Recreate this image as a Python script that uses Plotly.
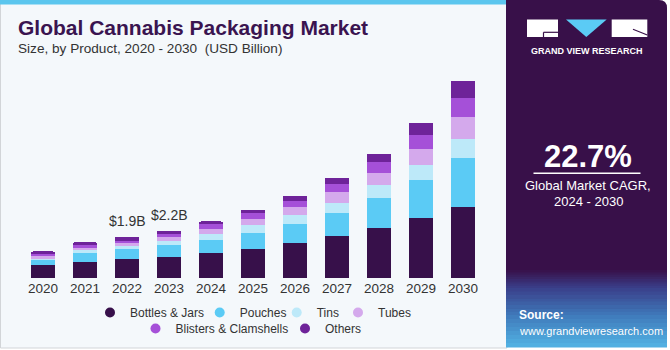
import plotly.graph_objects as go

years = ["2020", "2021", "2022", "2023", "2024", "2025", "2026", "2027", "2028", "2029", "2030"]
bottles_jars = [0.58, 0.74, 0.88, 0.99, 1.16, 1.36, 1.62, 1.93, 2.30, 2.76, 3.30]
pouches = [0.26, 0.42, 0.44, 0.52, 0.62, 0.74, 0.89, 1.10, 1.41, 1.79, 2.27]
tins = [0.08, 0.12, 0.16, 0.20, 0.26, 0.36, 0.42, 0.46, 0.58, 0.66, 0.87]
tubes = [0.09, 0.11, 0.12, 0.20, 0.23, 0.26, 0.37, 0.48, 0.57, 0.77, 1.00]
blisters = [0.11, 0.12, 0.13, 0.13, 0.21, 0.28, 0.25, 0.36, 0.51, 0.63, 0.88]
others = [0.11, 0.14, 0.17, 0.14, 0.14, 0.17, 0.26, 0.32, 0.38, 0.58, 0.80]
series_names = ["Bottles & Jars", "Pouches", "Tins", "Tubes", "Blisters & Clamshells", "Others"]
bar_labels = {"2022": "$1.9B", "2023": "$2.2B"}

colors = ["#37104A", "#5BCBF5", "#BDE9F9", "#D4A9EC", "#A550D8", "#6E2399"]
series = [bottles_jars, pouches, tins, tubes, blisters, others]

W_FIG, H_FIG = 670, 350
L, R, T, B = 22, 186, 62, 72
PW = W_FIG - L - R
PH = H_FIG - T - B
BASE = H_FIG - B


def px(x):
    return (x - L) / PW


def py(y):
    return (BASE - y) / PH


fig = go.Figure()

for name, vals, c in zip(series_names, series, colors):
    fig.add_trace(go.Bar(x=years, y=vals, name=name, marker=dict(color=c, line=dict(width=0)),
                         showlegend=False, hoverinfo="skip"))

# legend entries (circle markers), one small legend per entry so they sit like the original
legend_pos = [(112, 312.5), (221.7, 312.5), (298.7, 312.5), (360, 312.5), (157.5, 328.5), (307, 328.5)]
legend_layout = {}
for i, (name, c) in enumerate(zip(series_names, colors)):
    key = "legend" if i == 0 else f"legend{i + 1}"
    fig.add_trace(go.Scatter(x=[None], y=[None], mode="markers", name=name,
                             marker=dict(symbol="circle", size=10, color=c), legend=key))
    mx, my = legend_pos[i]
    legend_layout[key] = dict(orientation="h", xref="container", yref="container",
                              x=(mx - 22) / W_FIG, xanchor="left", y=1 - my / H_FIG, yanchor="middle",
                              bgcolor="rgba(0,0,0,0)", font=dict(size=12, color="#333333"),
                              itemwidth=30, tracegroupgap=0, traceorder="normal", borderwidth=0)

totals = [sum(v) for v in zip(*series)]
annotations = []
for yr, lab in bar_labels.items():
    idx = years.index(yr)
    annotations.append(dict(x=idx, y=totals[idx], xref="x", yref="y", text=lab, showarrow=False,
                            xanchor="center", yanchor="bottom", yshift=6,
                            font=dict(size=14, color="#333333")))

shapes = []
# left panel background
shapes.append(dict(type="rect", xref="paper", yref="paper", x0=px(0.5), x1=px(507), y0=py(0), y1=py(348),
                   fillcolor="#F4F8FB", line=dict(color="#D2D5D8", width=1), layer="below"))
shapes.append(dict(type="rect", xref="paper", yref="paper", x0=px(0), x1=px(506), y0=py(0), y1=py(4.5),
                   fillcolor="#5BC6EE", line=dict(width=0), layer="below"))
# right dark panel
x0p, x1p = 506, 667
path = (f"M {px(x0p)},{py(0)} L {px(x1p-8)},{py(0)} Q {px(x1p)},{py(0)} {px(x1p)},{py(8)} "
        f"L {px(x1p)},{py(347)} L {px(x0p)},{py(347)} Z")
shapes.append(dict(type="path", xref="paper", yref="paper", path=path, fillcolor="#381049",
                   line=dict(width=0), layer="below"))


def hexmix(c1, c2, t):
    a = [int(c1[i:i + 2], 16) for i in (1, 3, 5)]
    b = [int(c2[i:i + 2], 16) for i in (1, 3, 5)]
    return "#" + "".join(f"{round(a[k] + (b[k] - a[k]) * t):02X}" for k in range(3))


stops = [(270, "#381049"), (288, "#3A3F8A"), (315, "#3F79BA"), (347, "#52B3E4")]
for s in range(len(stops) - 1):
    (ya, ca), (yb, cb) = stops[s], stops[s + 1]
    n = 8
    for k in range(n):
        t = (k + 0.5) / n
        y_top = ya + (yb - ya) * k / n
        y_bot = ya + (yb - ya) * (k + 1) / n + 0.5
        shapes.append(dict(type="rect", xref="paper", yref="paper", x0=px(x0p), x1=px(x1p),
                           y0=py(y_top), y1=py(y_bot), fillcolor=hexmix(ca, cb, t),
                           line=dict(width=0), layer="below"))

# logo
shapes.append(dict(type="rect", xref="paper", yref="paper", x0=px(527), x1=px(558), y0=py(19.5), y1=py(37),
                   fillcolor="white", line=dict(width=0)))
shapes.append(dict(type="line", xref="paper", yref="paper", x0=px(543.5), x1=px(558), y0=py(32.3), y1=py(32.3),
                   line=dict(color="#381049", width=1.2)))
shapes.append(dict(type="line", xref="paper", yref="paper", x0=px(543.5), x1=px(543.5), y0=py(32.3), y1=py(37),
                   line=dict(color="#381049", width=1.2)))
shapes.append(dict(type="path", xref="paper", yref="paper",
                   path=f"M {px(566)},{py(19.5)} L {px(606.7)},{py(19.5)} L {px(586.3)},{py(37)} Z",
                   fillcolor="#5BCBF5", line=dict(width=0)))
shapes.append(dict(type="rect", xref="paper", yref="paper", x0=px(611.7), x1=px(647.3), y0=py(19.5), y1=py(37),
                   fillcolor="white", line=dict(width=0)))
shapes.append(dict(type="line", xref="paper", yref="paper", x0=px(633), x1=px(647.3), y0=py(29.3), y1=py(35),
                   line=dict(color="#381049", width=1.2)))
# CAGR underline
shapes.append(dict(type="line", xref="paper", yref="paper", x0=px(533.5), x1=px(640.5), y0=py(173.3), y1=py(173.3),
                   line=dict(color="white", width=1.5)))


def ann(x, y, text, size, color, bold=False, xanchor="center", family="Liberation Sans"):
    annotations.append(dict(x=px(x), y=py(y), xref="paper", yref="paper", text=f"<b>{text}</b>" if bold else text,
                            showarrow=False, xanchor=xanchor, yanchor="middle",
                            font=dict(size=size, color=color, family=family)))


ann(16, 27.5, "Global Cannabis Packaging Market", 21, "#3A1450", bold=True, xanchor="left")
ann(16, 48.5, "Size, by Product, 2020 - 2030  (USD Billion)", 13.6, "#333333", xanchor="left")
ann(587, 50.7, "GRAND VIEW RESEARCH", 9, "white", bold=True)
ann(588, 156, "22.7%", 31, "white", bold=True)
ann(588, 185, "Global Market CAGR,", 13, "white")
ann(588, 201, "2024 - 2030", 13, "white")
ann(517, 315, "Source:", 12, "white", bold=True, xanchor="left")
ann(517, 330.5, "www.grandviewresearch.com", 11, "white", xanchor="left")

fig.update_layout(
    width=W_FIG, height=H_FIG,
    margin=dict(l=L, r=R, t=T, b=B, pad=0),
    paper_bgcolor="white",
    plot_bgcolor="rgba(0,0,0,0)",
    barmode="stack",
    bargap=0.42,
    barcornerradius=2,
    font=dict(family="Liberation Sans", color="#333333"),
    xaxis=dict(type="category", showgrid=False, showline=False, zeroline=False, ticks="",
               tickfont=dict(size=13.5, color="#333333"), range=[-0.5, 10.5], fixedrange=True,
               automargin=False),
    yaxis=dict(visible=False, range=[0, 10], fixedrange=True, automargin=False),
    shapes=shapes,
    annotations=annotations,
    showlegend=True,
    **legend_layout,
)

fig.write_html("out.html")
